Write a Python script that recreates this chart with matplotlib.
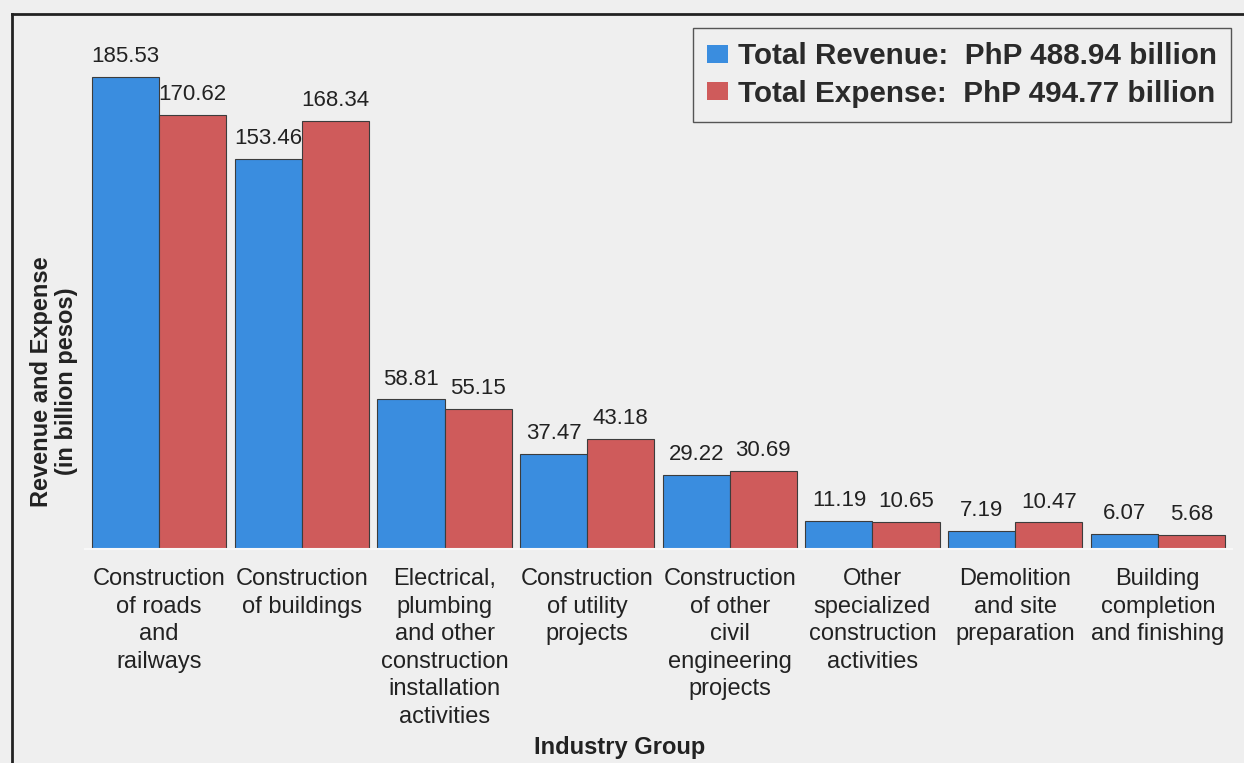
import matplotlib
matplotlib.use("Agg")
import matplotlib.pyplot as plt
import numpy as np
from matplotlib.lines import Line2D

# data
groups = [
    "Construction\nof roads\nand\nrailways",
    "Construction\nof buildings",
    "Electrical,\nplumbing\nand other\nconstruction\ninstallation\nactivities",
    "Construction\nof utility\nprojects",
    "Construction\nof other\ncivil\nengineering\nprojects",
    "Other\nspecialized\nconstruction\nactivities",
    "Demolition\nand site\npreparation",
    "Building\ncompletion\nand finishing",
]
revenue = [185.53, 153.46, 58.81, 37.47, 29.22, 11.19, 7.19, 6.07]
expense = [170.62, 168.34, 55.15, 43.18, 30.69, 10.65, 10.47, 5.68]
legend_labels = ["Total Revenue:  PhP 488.94 billion",
                 "Total Expense:  PhP 494.77 billion"]

plt.rcParams['font.family'] = ['Liberation Sans', 'DejaVu Sans']

bg = '#efefef'
blue = '#3a8ddf'
red = '#cf5b5b'
edge = '#3c3c3c'

W, H = 1244, 763
fig = plt.figure(figsize=(W / 100, H / 100), dpi=100, facecolor=bg)
ax = fig.add_axes([85 / W, 1 - 549 / H, 1147 / W, 524 / H])
ax.set_facecolor(bg)

x = np.arange(len(groups))
bw = 0.47
b1 = ax.bar(x - bw / 2, revenue, bw, color=blue, edgecolor=edge, linewidth=0.8,
            label=legend_labels[0])
b2 = ax.bar(x + bw / 2, expense, bw, color=red, edgecolor=edge, linewidth=0.8,
            label=legend_labels[1])

for bars in (b1, b2):
    ax.bar_label(bars, labels=[f"{v:.2f}" for v in bars.datavalues],
                 padding=7, fontsize=16, color='#222222')

ax.set_xlim(-0.52, 7.52)
ax.set_ylim(0, 206)
ax.set_yticks([])
ax.set_xticks(x)
ax.set_xticklabels(groups, fontsize=17, color='#222222', linespacing=1.32)
ax.tick_params(axis='x', length=0, pad=14)
for s in ['top', 'right', 'left']:
    ax.spines[s].set_visible(False)
ax.spines['bottom'].set_color('#f8f8f8')
ax.spines['bottom'].set_linewidth(1.5)

ax.set_ylabel("Revenue and Expense\n(in billion pesos)", fontsize=17,
              fontweight='bold', color='#222222', linespacing=1.1)
ax.yaxis.set_label_coords(-0.006, 0.32)
ax.set_xlabel("Industry Group", fontsize=17, fontweight='bold', color='#222222')
ax.xaxis.set_label_coords(0.466, -0.357)

leg = fig.legend(handles=[b1, b2], loc='upper right',
                 bbox_to_anchor=(1231 / W, 1 - 28 / H),
                 prop={'size': 21.3, 'weight': 'bold'}, frameon=True,
                 fancybox=False, edgecolor='#555555', facecolor=bg,
                 handlelength=0.71, handleheight=0.54, handletextpad=0.34,
                 labelspacing=0.32, borderpad=0.48, borderaxespad=0,
                 framealpha=1)
for t in leg.get_texts():
    t.set_color('#2a2a2a')
leg.get_frame().set_linewidth(1.0)
for h in leg.legend_handles:
    h.set_edgecolor('none')

# outer frame (top and left edges visible in the scan)
fig.add_artist(Line2D([12 / W, 1.0], [1 - 14 / H, 1 - 14 / H], color='#222222', lw=2))
fig.add_artist(Line2D([12 / W, 12 / W], [0.0, 1 - 14 / H], color='#222222', lw=2))

fig.savefig("out.png", dpi=100, facecolor=bg)
